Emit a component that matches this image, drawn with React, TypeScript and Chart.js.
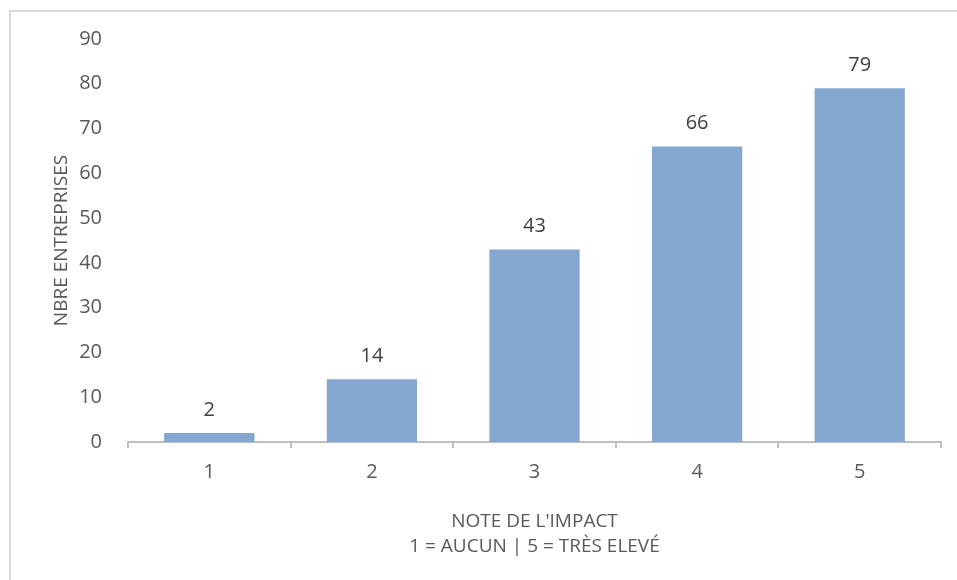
import React, { useEffect, useRef } from "react";
import { Chart, registerables } from "chart.js";

Chart.register(...registerables);

const categories = ["1", "2", "3", "4", "5"];
const values = [2, 14, 43, 66, 79];
const yTitle = "NBRE ENTREPRISES";
const xTitle = ["NOTE DE L'IMPACT", "1 = AUCUN | 5 = TRÈS ELEVÉ"];

const FONT = "'Open Sans', 'DejaVu Sans', sans-serif";

const dataLabels = {
  id: "dataLabels",
  afterDatasetsDraw(chart: any) {
    const ctx = chart.ctx;
    const meta = chart.getDatasetMeta(0);
    ctx.save();
    ctx.font = `20px ${FONT}`;
    ctx.fillStyle = "#404040";
    ctx.textAlign = "center";
    ctx.textBaseline = "middle";
    meta.data.forEach((bar: any, i: number) => {
      ctx.fillText(String(values[i]), bar.x, bar.y - 23);
    });
    ctx.restore();
  },
};

export default function App() {
  const ref = useRef<HTMLCanvasElement | null>(null);
  useEffect(() => {
    if (!ref.current) return;
    const chart = new Chart(ref.current, {
      type: "bar",
      data: {
        labels: categories,
        datasets: [
          {
            data: values,
            backgroundColor: "#84a7cf",
            borderWidth: 0,
            barPercentage: 0.555,
            categoryPercentage: 1,
          },
        ],
      },
      options: {
        animation: false,
        responsive: false,
        devicePixelRatio: 1,
        layout: { padding: { left: 0, top: 39, right: 16, bottom: 0 } },
        plugins: { legend: { display: false }, tooltip: { enabled: false } },
        scales: {
          x: {
            offset: true,
            grid: {
              display: true,
              offset: true,
              drawOnChartArea: false,
              drawTicks: true,
              tickLength: 6,
              color: "#bfbfbf",
              lineWidth: 2,
            },
            border: { display: true, color: "#bfbfbf", width: 2 },
            ticks: { color: "#595959", font: { family: FONT, size: 20 }, padding: 12 },
            title: {
              display: true,
              text: xTitle,
              color: "#595959",
              font: { family: FONT, size: 19, lineHeight: 1.3 },
              padding: { top: 0, bottom: 21 },
            },
            afterFit(scale: any) {
              scale.height = 138;
            },
          },
          y: {
            min: 0,
            max: 90,
            ticks: { stepSize: 10, color: "#595959", font: { family: FONT, size: 20 }, padding: 18 },
            grid: { display: false },
            border: { display: false },
            title: {
              display: true,
              text: yTitle,
              color: "#595959",
              font: { family: FONT, size: 19 },
              padding: { top: 50, bottom: 0 },
            },
            afterFit(scale: any) {
              scale.width = 128;
            },
          },
        },
      },
      plugins: [dataLabels],
    });
    return () => chart.destroy();
  }, []);

  return (
    <div style={{ position: "fixed", left: 0, top: 0, width: 957, height: 580, overflow: "hidden", background: "#fff" }}>
      <div
        style={{
          position: "absolute",
          left: 9,
          top: 10,
          width: 2000,
          height: 2000,
          borderTop: "2px solid #d9d9d9",
          borderLeft: "2px solid #d9d9d9",
        }}
      />
      <canvas ref={ref} width={957} height={580} style={{ position: "absolute", left: 0, top: 0 }} />
    </div>
  );
}
